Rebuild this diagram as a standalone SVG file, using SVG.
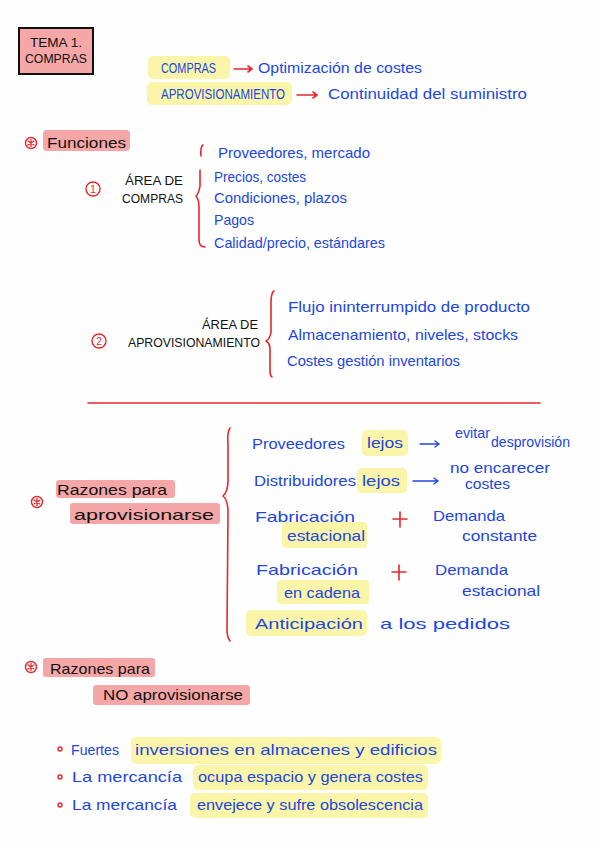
<svg xmlns="http://www.w3.org/2000/svg" width="600" height="848" viewBox="0 0 600 848">
<style>
.b{font-family:"Liberation Sans",Arial,sans-serif;font-size:15px;fill:#2146e0}
.k{font-family:"Liberation Sans",Arial,sans-serif;font-size:13px;fill:#111}
.kb{font-family:"Liberation Sans",Arial,sans-serif;font-size:15px;fill:#111}
.pk{fill:#f5a6a6}
.yl{fill:#faf5a8}
.rl{fill:none;stroke:#e8262b;stroke-width:1.6;stroke-linecap:round;stroke-linejoin:round}
.bl{fill:none;stroke:#2146e0;stroke-width:1.3;stroke-linecap:round}
.rc{fill:none;stroke:#e8262b;stroke-width:1.4}
.ast{fill:none;stroke:#e8262b;stroke-width:1.3;stroke-linecap:round}
.rt{font-family:"Liberation Sans",Arial,sans-serif;fill:#e8262b}
</style>
<defs>
<g id="star"><circle r="5.5" class="rc"/><path class="ast" d="M0,-3.5 L0,3.5 M-3,-2 L3,2 M-3,2 L3,-2"/></g>
</defs>
<rect width="600" height="848" fill="#fefefe"/>
<g id="title">
<rect x="19" y="28" width="74" height="46" class="pk" stroke="#111" stroke-width="2"/>
<text x="56" y="47" class="k" text-anchor="middle" textLength="52" lengthAdjust="spacingAndGlyphs" font-size="12">TEMA 1.</text>
<text x="56" y="63" class="k" text-anchor="middle" textLength="62" lengthAdjust="spacingAndGlyphs" font-size="12">COMPRAS</text>
</g>
<g id="intro">
<rect x="148" y="56" width="82" height="23" rx="5" class="yl"/>
<text x="161" y="73" class="b" font-size="12" textLength="55" lengthAdjust="spacingAndGlyphs">COMPRAS</text>
<rect x="147" y="82" width="145" height="23" rx="5" class="yl"/>
<text x="161" y="99" class="b" font-size="12" textLength="124" lengthAdjust="spacingAndGlyphs">APROVISIONAMIENTO</text>
<path class="rl" d="M234,69 L252,69 M248,66 L252,69 L248,72"/>
<path class="rl" d="M297,95 L317,95 M313,92 L317,95 L313,98"/>
<text x="258" y="73" class="b" font-size="16" textLength="164" lengthAdjust="spacingAndGlyphs">Optimización de costes</text>
<text x="328" y="99" class="b" font-size="16" textLength="199" lengthAdjust="spacingAndGlyphs">Continuidad del suministro</text>
</g>
<g id="funciones">
<use href="#star" x="31" y="143"/>
<rect x="43" y="130" width="87" height="21" rx="4" class="pk"/>
<text x="47" y="148" class="kb" font-size="17" textLength="79" lengthAdjust="spacingAndGlyphs">Funciones</text>
<circle cx="93" cy="189" r="7" class="rc"/>
<text x="93" y="193" class="rt" font-size="10" text-anchor="middle">1</text>
<text x="125" y="185" class="k" textLength="58" lengthAdjust="spacingAndGlyphs">ÁREA DE</text>
<text x="122" y="203" class="k" textLength="61" lengthAdjust="spacingAndGlyphs">COMPRAS</text>
<path class="rl" d="M203,145 Q200,147 201,156 M200,170 L200,186 Q199,193 196,196 Q199,199 199,208 L199,240 Q199,247 205,247"/>
<text x="218" y="158" class="b" textLength="152" lengthAdjust="spacingAndGlyphs">Proveedores, mercado</text>
<text x="214" y="182" class="b" textLength="92" lengthAdjust="spacingAndGlyphs">Precios, costes</text>
<text x="214" y="203" class="b" textLength="133" lengthAdjust="spacingAndGlyphs">Condiciones, plazos</text>
<text x="214" y="225" class="b" textLength="40" lengthAdjust="spacingAndGlyphs">Pagos</text>
<text x="214" y="248" class="b" textLength="171" lengthAdjust="spacingAndGlyphs">Calidad/precio, estándares</text>
</g>
<g id="aprovisionamiento">
<circle cx="99" cy="341" r="7" class="rc"/>
<text x="99" y="345" class="rt" font-size="10" text-anchor="middle">2</text>
<text x="202" y="329" class="k" textLength="56" lengthAdjust="spacingAndGlyphs">ÁREA DE</text>
<text x="128" y="347" class="k" textLength="132" lengthAdjust="spacingAndGlyphs">APROVISIONAMIENTO</text>
<path class="rl" d="M274,291 Q271,293 271,302 L271,332 Q270,339 266,341 Q270,343 270,350 L270,370 Q270,376 272,377"/>
<text x="288" y="312" class="b" textLength="242" lengthAdjust="spacingAndGlyphs">Flujo ininterrumpido de producto</text>
<text x="288" y="340" class="b" textLength="230" lengthAdjust="spacingAndGlyphs">Almacenamiento, niveles, stocks</text>
<text x="287" y="366" class="b" textLength="173" lengthAdjust="spacingAndGlyphs">Costes gestión inventarios</text>
<path class="rl" d="M88,403 L540,403" stroke-width="1.2"/>
</g>
<g id="razones-aprovisionarse">
<use href="#star" x="37" y="502"/>
<rect x="56" y="480" width="119" height="18" rx="3" class="pk"/>
<rect x="70" y="503" width="150" height="21" rx="3" class="pk"/>
<text x="57" y="495" class="kb" textLength="110" lengthAdjust="spacingAndGlyphs">Razones para</text>
<text x="74" y="520" class="kb" font-size="17" textLength="140" lengthAdjust="spacingAndGlyphs">aprovisionarse</text>
<path class="rl" d="M230,428 Q227,432 228,445 L228,480 Q228,492 223,496 Q228,500 228,512 L227,630 Q227,637 230,641"/>
<text x="252" y="449" class="b" font-size="17" textLength="93" lengthAdjust="spacingAndGlyphs">Proveedores</text>
<rect x="362" y="430" width="46" height="26" rx="5" class="yl"/>
<text x="367" y="448" class="b" font-size="17" textLength="36" lengthAdjust="spacingAndGlyphs">lejos</text>
<path class="bl" d="M420,444 L439,444 M435,441 L439,444 L435,447"/>
<text x="455" y="438" class="b" font-size="13" textLength="35" lengthAdjust="spacingAndGlyphs">evitar</text>
<text x="491" y="447" class="b" font-size="15" textLength="79" lengthAdjust="spacingAndGlyphs">desprovisión</text>
<text x="254" y="486" class="b" font-size="17" textLength="102" lengthAdjust="spacingAndGlyphs">Distribuidores</text>
<rect x="357" y="468" width="50" height="25" rx="5" class="yl"/>
<text x="362" y="486" class="b" font-size="17" textLength="38" lengthAdjust="spacingAndGlyphs">lejos</text>
<path class="bl" d="M413,481 L438,481 M434,478 L438,481 L434,484"/>
<text x="450" y="473" class="b" font-size="12" textLength="100" lengthAdjust="spacingAndGlyphs">no encarecer</text>
<text x="465" y="489" class="b" font-size="12" textLength="45" lengthAdjust="spacingAndGlyphs">costes</text>
<text x="255" y="522" class="b" font-size="17" textLength="100" lengthAdjust="spacingAndGlyphs">Fabricación</text>
<rect x="282" y="522" width="85" height="26" rx="4" class="yl"/>
<text x="287" y="541" class="b" font-size="17" textLength="78" lengthAdjust="spacingAndGlyphs">estacional</text>
<path class="rl" d="M400,512 L400,527 M393,519 L407,519" stroke-width="2"/>
<text x="433" y="521" class="b" font-size="17" textLength="72" lengthAdjust="spacingAndGlyphs">Demanda</text>
<text x="462" y="541" class="b" font-size="17" textLength="75" lengthAdjust="spacingAndGlyphs">constante</text>
<text x="256" y="575" class="b" font-size="17" textLength="102" lengthAdjust="spacingAndGlyphs">Fabricación</text>
<rect x="277" y="580" width="92" height="24" rx="4" class="yl"/>
<text x="284" y="598" class="b" font-size="17" textLength="76" lengthAdjust="spacingAndGlyphs">en cadena</text>
<path class="rl" d="M399,565 L399,580 M392,572 L406,572" stroke-width="2"/>
<text x="435" y="575" class="b" font-size="17" textLength="73" lengthAdjust="spacingAndGlyphs">Demanda</text>
<text x="462" y="596" class="b" font-size="17" textLength="78" lengthAdjust="spacingAndGlyphs">estacional</text>
<rect x="246" y="610" width="121" height="26" rx="5" class="yl"/>
<text x="255" y="629" class="b" font-size="17" textLength="108" lengthAdjust="spacingAndGlyphs">Anticipación</text>
<text x="380" y="629" class="b" font-size="17" textLength="130" lengthAdjust="spacingAndGlyphs">a los pedidos</text>
</g>
<g id="razones-no">
<use href="#star" x="31" y="667"/>
<rect x="43" y="658" width="112" height="19" rx="3" class="pk"/>
<rect x="93" y="685" width="157" height="20" rx="3" class="pk"/>
<text x="50" y="674" class="kb" textLength="100" lengthAdjust="spacingAndGlyphs">Razones para</text>
<text x="103" y="700" class="kb" textLength="140" lengthAdjust="spacingAndGlyphs">NO aprovisionarse</text>
<circle cx="60" cy="749" r="2" class="rc" stroke-width="1"/>
<circle cx="60" cy="777" r="2" class="rc" stroke-width="1"/>
<circle cx="60" cy="805" r="2" class="rc" stroke-width="1"/>
<text x="71" y="755" class="b" font-size="16" textLength="48" lengthAdjust="spacingAndGlyphs">Fuertes</text>
<rect x="131" y="737" width="310" height="27" rx="5" class="yl"/>
<text x="135" y="755" class="b" textLength="302" lengthAdjust="spacingAndGlyphs">inversiones en almacenes y edificios</text>
<text x="72" y="782" class="b" textLength="110" lengthAdjust="spacingAndGlyphs">La mercancía</text>
<rect x="193" y="765" width="235" height="25" rx="5" class="yl"/>
<text x="198" y="782" class="b" textLength="225" lengthAdjust="spacingAndGlyphs">ocupa espacio y genera costes</text>
<text x="72" y="810" class="b" textLength="105" lengthAdjust="spacingAndGlyphs">La mercancía</text>
<rect x="190" y="793" width="238" height="25" rx="5" class="yl"/>
<text x="197" y="810" class="b" textLength="226" lengthAdjust="spacingAndGlyphs">envejece y sufre obsolescencia</text>
</g>
</svg>
